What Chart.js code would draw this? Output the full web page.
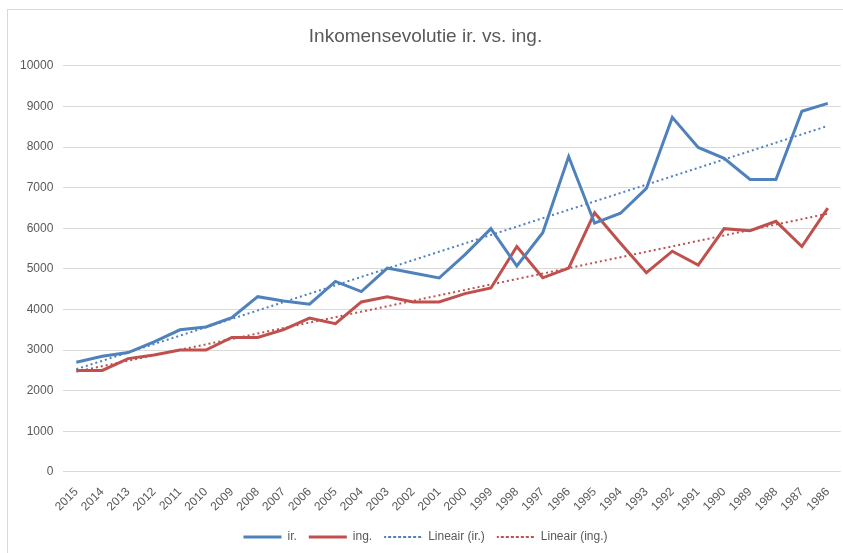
<!DOCTYPE html>
<html>
<head>
<meta charset="utf-8">
<script src="https://cdn.jsdelivr.net/npm/chart.js@4"></script>
<style>
  html, body { margin: 0; padding: 0; background: #fff; }
  #frame { position: absolute; left: 7px; top: 9px; width: 860px; height: 580px; border: 1px solid #d9d9d9; }
  #wrap { position: absolute; left: 0; top: 0; width: 843px; height: 553px; }
</style>
</head>
<body>
<div id="frame"></div>
<div id="wrap"><canvas id="chart"></canvas></div>
<script>
// Years, newest first (as in the source sheet)
const years = ["2015","2014","2013","2012","2011","2010","2009","2008","2007","2006",
  "2005","2004","2003","2002","2001","2000","1999","1998","1997","1996",
  "1995","1994","1993","1992","1991","1990","1989","1988","1987","1986"]

// Income series
const irValues = [2700, 2850, 2940, 3200, 3500, 3570, 3800, 4315, 4210, 4130,
  4690, 4440, 5020, 4900, 4775, 5350, 5990, 5070, 5890, 7765,
  6125, 6370, 6980, 8730, 7990, 7720, 7200, 7200, 8880, 9075]
const ingValues = [2500, 2500, 2790, 2880, 3000, 3000, 3310, 3310, 3505, 3790,
  3650, 4185, 4310, 4185, 4185, 4390, 4530, 5550, 4780, 5020,
  6380, 5630, 4905, 5435, 5095, 5990, 5940, 6170, 5550, 6495]

// Trend line end points (first and last year)
const irTrendEnds = [2530, 8520]
const ingTrendEnds = [2470, 6360]

const blue = "#4f81bd"
const red = "#c0504d"
const textColor = "#595959"
const gridColor = "#d9d9d9"

// only the end points are set, the line is spanned across the gaps
function trendSeries(ends) {
  return years.map((y, i) => i === 0 ? ends[0] : (i === years.length - 1 ? ends[1] : null))
}

const font = { family: "'Liberation Sans', Arial, sans-serif", size: 12 }

new Chart(document.getElementById("chart"), {
  type: "line",
  data: {
    labels: years,
    datasets: [
      { label: "ir.", data: irValues, borderColor: blue, backgroundColor: "transparent", borderWidth: 3, pointRadius: 0, tension: 0 },
      { label: "ing.", data: ingValues, borderColor: red, backgroundColor: "transparent", borderWidth: 3, pointRadius: 0, tension: 0 },
      { label: "Lineair (ir.)", data: trendSeries(irTrendEnds), borderColor: blue, backgroundColor: "transparent", borderWidth: 2, borderDash: [2, 3], pointRadius: 0, spanGaps: true },
      { label: "Lineair (ing.)", data: trendSeries(ingTrendEnds), borderColor: red, backgroundColor: "transparent", borderWidth: 2, borderDash: [2, 3], pointRadius: 0, spanGaps: true },
    ],
  },
  options: {
    responsive: true,
    maintainAspectRatio: false,
    animation: false,
    layout: { padding: { left: 10, right: 2, top: 0, bottom: 0 } },
    plugins: {
      title: {
        display: true,
        text: "Inkomensevolutie ir. vs. ing.",
        color: textColor,
        font: { family: font.family, size: 19, weight: "normal" },
        padding: { top: 25, bottom: 18 },
      },
      legend: {
        position: "bottom",
        labels: {
          color: textColor,
          font: font,
          boxWidth: 38,
          boxHeight: 0,
          padding: 12,
        },
      },
      tooltip: { enabled: false },
    },
    scales: {
      x: {
        offset: true,
        grid: { display: false },
        border: { display: false },
        ticks: { color: textColor, font: font, minRotation: 45, maxRotation: 45, autoSkip: false, padding: 5 },
      },
      y: {
        min: 0,
        max: 10000,
        ticks: {
          stepSize: 1000,
          color: textColor,
          font: font,
          padding: 10,
          // plain numbers, no thousands separator
          callback: (value) => String(value),
        },
        grid: { color: gridColor, drawTicks: false, tickLength: 0, lineWidth: 1 },
        border: { display: false },
      },
    },
  },
})
</script>
</body>
</html>
